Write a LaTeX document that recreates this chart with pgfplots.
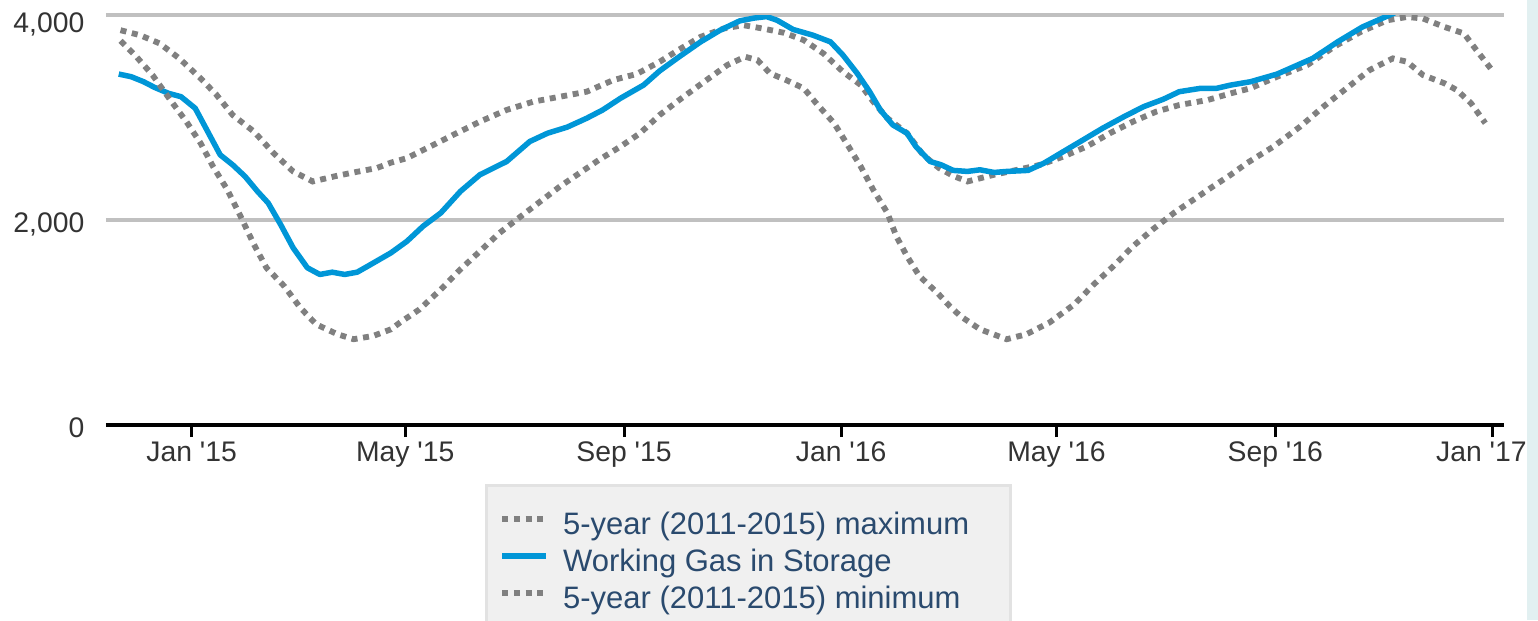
\documentclass[border=0pt]{standalone}
\usepackage{pgfplots}
\pgfplotsset{compat=1.18}
\usepackage{fontspec}
\setmainfont{Liberation Sans}
\definecolor{blueline}{RGB}{0,150,215}
\definecolor{dotgray}{RGB}{128,128,128}
\definecolor{gridgray}{RGB}{192,192,192}
\definecolor{ticktext}{RGB}{51,51,51}
\definecolor{legtext}{RGB}{42,74,110}
\definecolor{legbg}{RGB}{240,240,240}
\definecolor{legborder}{RGB}{226,226,226}
\definecolor{strip}{RGB}{226,240,241}

\pgfplotstableread{
day val
-40 3852
-29 3803
-18 3723
-7 3577
5 3382
14 3220
23 3025
35 2863
46 2653
57 2474
68 2376
80 2425
91 2464
104 2507
112 2560
121 2604
134 2717
147 2831
162 2960
177 3074
192 3155
207 3203
222 3252
237 3366
250 3424
263 3544
274 3664
286 3787
299 3868
310 3901
321 3868
333 3826
344 3755
355 3625
366 3447
376 3317
383 3155
391 2993
402 2847
411 2636
420 2507
428 2430
436 2376
451 2442
464 2490
477 2539
490 2620
503 2717
516 2847
529 2960
542 3057
555 3122
571 3171
584 3236
595 3285
610 3398
627 3512
642 3690
657 3836
672 3949
683 3981
692 3966
704 3884
715 3820
722 3658
730 3479
}\maxtable

\pgfplotstableread{
day val
-41 3424
-34 3398
-27 3349
-21 3295
-13 3236
-6 3203
2 3090
9 2863
16 2636
23 2539
30 2425
37 2279
43 2166
50 1955
57 1729
65 1534
72 1469
79 1491
86 1469
93 1491
99 1550
106 1620
112 1680
121 1793
130 1939
140 2069
151 2279
162 2442
177 2571
190 2766
200 2847
211 2906
222 2993
231 3074
241 3188
254 3317
263 3455
274 3593
286 3738
297 3852
308 3943
316 3970
323 3985
329 3949
338 3859
349 3804
359 3738
366 3609
374 3431
381 3252
387 3074
394 2928
402 2847
407 2717
415 2571
421 2540
428 2484
436 2474
443 2490
451 2464
458 2474
470 2484
479 2555
490 2669
501 2782
512 2896
524 3009
535 3106
546 3178
555 3252
567 3285
576 3285
584 3317
595 3349
610 3424
630 3577
644 3738
658 3884
668 3960
676 4020
}\bluetable

\pgfplotstableread{
day val
-40 3748
-31 3592
-22 3414
-12 3171
-3 2960
5 2750
12 2522
20 2296
27 2053
35 1761
42 1534
52 1355
61 1145
70 982
82 885
91 837
102 869
112 934
117 999
128 1128
140 1323
151 1518
162 1696
173 1874
185 2036
196 2182
207 2328
218 2458
229 2588
241 2717
252 2847
263 3025
274 3171
288 3349
301 3512
311 3593
318 3560
325 3431
334 3366
344 3285
351 3139
361 2945
368 2750
376 2522
383 2296
391 2069
396 1841
402 1647
409 1452
419 1291
426 1160
432 1063
443 934
458 837
469 885
482 999
496 1177
507 1372
518 1550
529 1744
540 1907
552 2069
563 2198
574 2328
584 2442
593 2555
608 2717
623 2912
636 3106
649 3285
662 3463
675 3577
683 3544
692 3414
704 3334
711 3268
719 3139
727 2945
}\mintable

\begin{document}
\begin{tikzpicture}
\useasboundingbox (-31.8pt,-58.5pt) rectangle (429.6pt,127.5pt);
\fill[strip] (426.3pt,-58.5pt) rectangle (429.6pt,127.5pt);
\begin{axis}[
  at={(0pt,0pt)}, anchor=south west,
  scale only axis, width=419.4pt, height=123pt,
  xmin=-48.16, xmax=737.5, ymin=0, ymax=4000,
  axis x line*=bottom, axis y line*=left,
  x axis line style={-, black, line width=1.2pt},
  y axis line style={draw=none},
  xtick={0,120,243,365,486,609,731},
  xticklabels={Jan \textquotesingle15, May \textquotesingle15, Sep \textquotesingle15, Jan \textquotesingle16, May \textquotesingle16, Sep \textquotesingle16, Jan \textquotesingle17\hspace*{6.6pt}},
  ytick={0,2000,4000},
  yticklabels={0,{2,000},{\raisebox{-1.3pt}{4,000}}},
  tick align=outside, major tick length=3.6pt,
  xtick style={black, line width=0.9pt},
  ytick style={draw=none},
  ymajorgrids, grid style={gridgray, line width=1pt},
  tick label style={font=\fontsize{8.5pt}{10pt}\selectfont, text=ticktext},
  yticklabel style={anchor=base east, inner sep=0pt, xshift=-2.7pt, yshift=-3.8pt},
  xticklabel style={anchor=base, inner sep=0pt, yshift=-7.2pt},
  legend style={at={(0.2711,-0.1439)}, anchor=north west, fill=legbg, draw=legborder, line width=0.8pt,
    text=legtext, font=\fontsize{9.3pt}{11pt}\selectfont, inner xsep=3.9pt, inner ysep=7.3pt,
    row sep=0pt, column sep=4.2pt,
    nodes={inner sep=0pt, text height=7.4pt, text depth=3.7pt}},
  legend cell align=left,
  legend image code/.code={\draw[#1] (0pt,2.7pt) -- (13.2pt,2.7pt);},
]
\addplot[dotgray, line width=1.75pt, dash pattern=on 1.8pt off 1.7pt] table[x=day,y=val] {\maxtable};
\addlegendentry{5-year (2011-2015) maximum\hspace*{8.4pt}}
\addplot[blueline, line width=1.65pt, line join=round] table[x=day,y=val] {\bluetable};
\addlegendentry{Working Gas in Storage}
\addplot[dotgray, line width=1.75pt, dash pattern=on 1.8pt off 1.7pt] table[x=day,y=val] {\mintable};
\addlegendentry{5-year (2011-2015) minimum}
\end{axis}
\end{tikzpicture}
\end{document}
